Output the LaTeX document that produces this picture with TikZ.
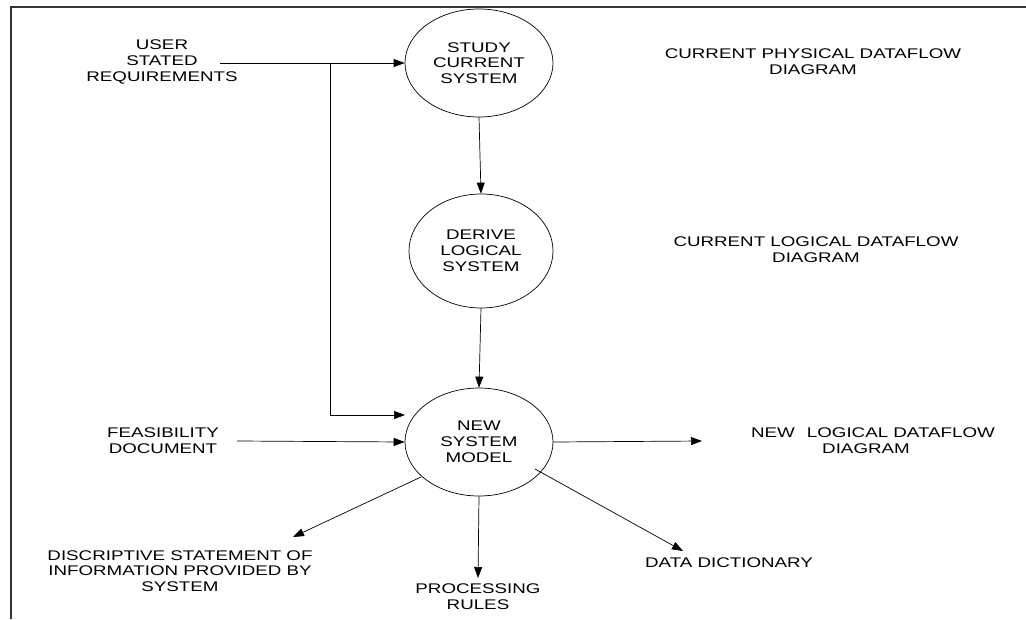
\documentclass[tikz,border=0pt]{standalone}
\usepackage{fontspec}
\setmainfont[FakeStretch=1.34]{Liberation Sans}
\usetikzlibrary{arrows.meta,shapes.geometric}
\begin{document}
\begin{tikzpicture}[x=1pt,y=-1pt,
  proc/.style={draw,ellipse,minimum width=148pt,minimum height=108pt,inner sep=0pt,align=center,line width=0.7pt},
  lbl/.style={align=center,inner sep=0pt},
  flow/.style={line width=0.7pt,-{Triangle[length=11pt,width=8pt]}},
  every node/.append style={font=\fontsize{14}{15.8}\selectfont}]
\useasboundingbox (0,0) rectangle (1026,619);
% frame
\draw[line width=1.3pt,black!80] (10,7) -- (1026,7);
\draw[line width=1.1pt,black!80] (11,7) -- (11,619);

% processes
\node[proc] (study) at (479,63) {STUDY\\CURRENT\\SYSTEM};
\node[proc,minimum width=144pt,minimum height=114pt] (derive) at (481,251) {DERIVE\\LOGICAL\\SYSTEM};
\node[proc] (model) at (479,442) {NEW\\SYSTEM\\MODEL};

% external texts
\node[lbl] (user) at (162,62) {USER\\STATED\\REQUIREMENTS};
\node[lbl] (phys) at (813,62) {CURRENT PHYSICAL DATAFLOW\\DIAGRAM};
\node[lbl] (curlog) at (816,250) {CURRENT LOGICAL DATAFLOW\\DIAGRAM};
\node[lbl] (feas) at (163,441) {FEASIBILITY\\DOCUMENT};
\node[lbl] (newlog) at (873,441) {NEW\hspace{12pt}LOGICAL DATAFLOW\\DIAGRAM\hspace*{14pt}};
\node[lbl] (desc) at (180,571) {DISCRIPTIVE STATEMENT OF\\INFORMATION PROVIDED BY\\SYSTEM};
\node[lbl] (rules) at (478,597) {PROCESSING\\RULES};
\node[lbl] (dict) at (729,563) {DATA DICTIONARY};

% connector end points
\coordinate (userEnd) at (220,63);
\coordinate (branch) at (330,63);
\coordinate (bend) at (330,415);
\coordinate (bendTip) at (405,415);
\coordinate (feasEnd) at (237,441);
\coordinate (newlogTip) at (702,441);
\coordinate (descTip) at (293,537);
\coordinate (descStart) at (421,477);
\coordinate (rulesTip) at (478,578);
\coordinate (dictStart) at (535,469);
\coordinate (dictTip) at (683,551);

% flows
\draw[flow] (userEnd) -- (study.west);
\draw[flow] (branch) -- (bend) -- (bendTip);
\draw[flow] (study.south) -- (derive.north);
\draw[flow] (derive.south) -- (model.north);
\draw[flow] (feasEnd) -- (model.west);
\draw[flow] (model.east) -- (newlogTip);
\draw[flow] (descStart) -- (descTip);
\draw[flow] (model.south) -- (rulesTip);
\draw[flow] (dictStart) -- (dictTip);
\end{tikzpicture}
\end{document}
